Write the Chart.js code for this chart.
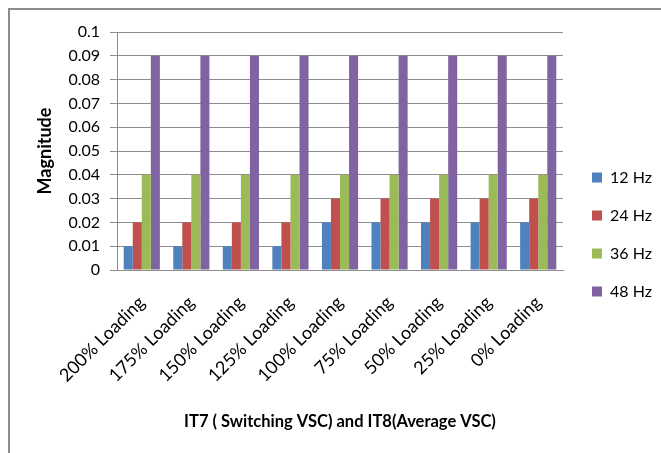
<!DOCTYPE html>
<html>
<head>
<meta charset="utf-8">
<script src="https://cdn.jsdelivr.net/npm/chart.js@4/dist/chart.umd.min.js"></script>
<style>
  html, body { margin: 0; padding: 0; background: #fff; overflow: hidden; }
  #wrap { position: relative; width: 661px; height: 453px; }
  #frame { position: absolute; left: 8px; top: 8px; width: 700px; height: 500px; border: 2px solid #8c8c8c; }
  #grafico { position: absolute; left: 0; top: 0; }
</style>
</head>
<body>
<div id="wrap">
  <div id="frame"></div>
  <canvas id="grafico" width="661" height="453"></canvas>
</div>
<script>
// Categorias do eixo X
const cargas = ['200% Loading', '175% Loading', '150% Loading', '125% Loading', '100% Loading',
  '75% Loading', '50% Loading', '25% Loading', '0% Loading'];

// Magnitude por frequência
const hz12 = [0.01, 0.01, 0.01, 0.01, 0.02, 0.02, 0.02, 0.02, 0.02];
const hz24 = [0.02, 0.02, 0.02, 0.02, 0.03, 0.03, 0.03, 0.03, 0.03];
const hz36 = [0.04, 0.04, 0.04, 0.04, 0.04, 0.04, 0.04, 0.04, 0.04];
const hz48 = [0.09, 0.09, 0.09, 0.09, 0.09, 0.09, 0.09, 0.09, 0.09];

const nomesSeries = ['12 Hz', '24 Hz', '36 Hz', '48 Hz'];
const cores = ['#4f81bd', '#c0504d', '#9bbb59', '#8064a2'];

const fonte = 'Lato, "Open Sans", sans-serif';
const cinza = '#8e8e8e';

// Ajuste fino da legenda (largura fixa e posição)
const ajusteLegenda = {
  id: 'ajusteLegenda',
  afterInit(chart) {
    const fitOriginal = chart.legend.fit;
    chart.legend.fit = function () {
      fitOriginal.call(this);
      this.width = 98;
    };
  },
  afterLayout(chart) {
    const lg = chart.legend;
    lg.left += 7; lg.right += 7;
    lg.top -= 8; lg.bottom -= 8;
  }
};

new Chart(document.getElementById('grafico'), {
  type: 'bar',
  data: {
    labels: cargas,
    datasets: [hz12, hz24, hz36, hz48].map((dados, i) => ({
      label: nomesSeries[i],
      data: dados,
      backgroundColor: cores[i],
      borderWidth: 0,
      categoryPercentage: 0.73,
      barPercentage: 1
    }))
  },
  options: {
    responsive: false,
    animation: false,
    layout: { padding: { top: 32, left: 0, right: 0, bottom: 0 } },
    scales: {
      y: {
        min: 0,
        max: 0.1,
        ticks: {
          stepSize: 0.01,
          color: '#000',
          padding: 10,
          font: { family: fonte, size: 16 },
          callback: v => +v.toFixed(2)
        },
        grid: { color: cinza, tickLength: 7 },
        border: { color: cinza },
        title: {
          display: true,
          text: 'Magnitude',
          color: '#000',
          font: { family: fonte, size: 18, weight: 'bold' },
          padding: { top: 34 }
        },
        afterFit: s => { s.width = 117; }
      },
      x: {
        ticks: {
          color: '#000',
          minRotation: 45,
          maxRotation: 45,
          padding: 22,
          font: { family: fonte, size: 18 }
        },
        grid: { display: false, drawTicks: false },
        border: { color: cinza },
        title: {
          display: true,
          text: 'IT7 ( Switching VSC) and IT8(Average VSC)',
          color: '#000',
          font: { family: fonte, size: 16.5, weight: 'bold' },
          padding: { bottom: 21 }
        },
        afterFit: s => { s.height = 183; }
      }
    },
    plugins: {
      legend: {
        position: 'right',
        labels: {
          boxWidth: 10,
          boxHeight: 10,
          padding: 22,
          color: '#000',
          font: { family: fonte, size: 16 }
        }
      },
      tooltip: { enabled: false }
    }
  },
  plugins: [ajusteLegenda]
});
</script>
</body>
</html>
